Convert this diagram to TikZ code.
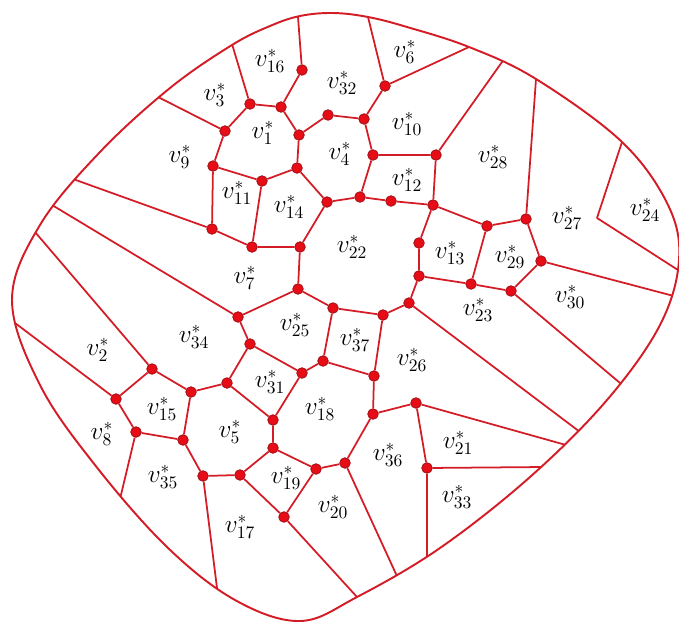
\documentclass[tikz,border=0pt]{standalone}
\usepackage{tikz}
\usetikzlibrary{backgrounds}

\definecolor{edgered}{RGB}{212,28,38}
\definecolor{dotred}{RGB}{232,12,22}
\definecolor{dotrim}{RGB}{165,18,24}

% outer rim of the map
\newcommand{\rimcurve}{plot[smooth cycle, tension=0.6] coordinates {
  (333,13) (368,17) (407,27) (469,47) (536,79) (622,142) (668,205) (679,260)
  (660,325) (607,400) (530,477) (440,548) (357,597) (300,621) (235,600)
  (167,547) (95,465) (40,385) (12,300) (40,225) (100,152) (170,88)
  (232,45) (270,26) (300,16)}}

\begin{document}
\begin{tikzpicture}[
  x=0.02cm, y=-0.02cm,
  font=\fontsize{14.5}{16}\selectfont,
  edge/.style={draw=edgered, line width=1pt, line join=round},
  spoke/.style={edge, shorten >=-10pt},
  rim/.style={draw=edgered, line width=1.1pt},
  dot/.style={circle, fill=dotred, draw=dotrim, line width=0.5pt, minimum size=2.1mm, inner sep=0pt},
  face/.style={inner sep=1pt}
]
\useasboundingbox (0,0) rectangle (679,622);

% Ends of the cut lines on the rim
\coordinate (b1)  at (298,17);
\coordinate (b2)  at (368,17);
\coordinate (b3)  at (469,47);
\coordinate (b4)  at (502,62);
\coordinate (b5)  at (536,79);
\coordinate (b6)  at (622,142);
\coordinate (b7)  at (678,270);
\coordinate (b8)  at (670,295);
\coordinate (b9)  at (620,383);
\coordinate (b10) at (580,432);
\coordinate (b11) at (566,445);
\coordinate (b12) at (544,467);
\coordinate (b13) at (427,555);
\coordinate (b14) at (396,574);
\coordinate (b15) at (357,597);
\coordinate (b16) at (217,588);
\coordinate (b17) at (120,499);
\coordinate (b18) at (15,323);
\coordinate (b19) at (35,232);
\coordinate (b20) at (52,205);
\coordinate (b21) at (73,179);
\coordinate (b22) at (158,97);
\coordinate (b23) at (232,44);
\coordinate (c24) at (597,218);

% Vertices of the dual graph
\node[dot] (d1)  at (225,131) {};
\node[dot] (d2)  at (250,104) {};
\node[dot] (d3)  at (281,107) {};
\node[dot] (d4)  at (302,70)  {};
\node[dot] (d5)  at (299,135) {};
\node[dot] (d6)  at (328,115) {};
\node[dot] (d7)  at (364,119) {};
\node[dot] (d8)  at (385,86)  {};
\node[dot] (d9)  at (373,155) {};
\node[dot] (d10) at (436,155) {};
\node[dot] (d11) at (433,205) {};
\node[dot] (d12) at (391,201) {};
\node[dot] (d13) at (360,197) {};
\node[dot] (d14) at (327,202) {};
\node[dot] (d15) at (297,168) {};
\node[dot] (d16) at (262,181) {};
\node[dot] (d17) at (213,166) {};
\node[dot] (d18) at (212,229) {};
\node[dot] (d19) at (252,247) {};
\node[dot] (d20) at (300,247) {};
\node[dot] (d21) at (298,289) {};
\node[dot] (d22) at (333,308) {};
\node[dot] (d23) at (383,315) {};
\node[dot] (d24) at (409,303) {};
\node[dot] (d25) at (419,276) {};
\node[dot] (d26) at (419,243) {};
\node[dot] (d27) at (487,226) {};
\node[dot] (d28) at (526,219) {};
\node[dot] (d29) at (541,261) {};
\node[dot] (d30) at (511,291) {};
\node[dot] (d31) at (471,284) {};
\node[dot] (d32) at (238,317) {};
\node[dot] (d33) at (250,344) {};
\node[dot] (d34) at (323,361) {};
\node[dot] (d35) at (302,373) {};
\node[dot] (d36) at (374,376) {};
\node[dot] (d37) at (227,383) {};
\node[dot] (d38) at (191,392) {};
\node[dot] (d39) at (152,369) {};
\node[dot] (d40) at (116,399) {};
\node[dot] (d41) at (136,432) {};
\node[dot] (d42) at (183,440) {};
\node[dot] (d43) at (203,476) {};
\node[dot] (d44) at (240,475) {};
\node[dot] (d45) at (273,420) {};
\node[dot] (d46) at (273,448) {};
\node[dot] (d47) at (316,469) {};
\node[dot] (d48) at (345,463) {};
\node[dot] (d49) at (284,517) {};
\node[dot] (d50) at (373,414) {};
\node[dot] (d51) at (416,403) {};
\node[dot] (d52) at (427,468) {};

% Edges, upper part
\draw[edge] (d1) -- (d2) -- (d3) -- (d5) -- (d6) -- (d7) -- (d9) -- (d10) -- (d11);
\draw[edge] (d4) -- (d3);
\draw[edge] (d8) -- (d7);
\draw[edge] (d9) -- (d13) -- (d12) -- (d11);
\draw[edge] (d13) -- (d14) -- (d15) -- (d5);
\draw[edge] (d15) -- (d16) -- (d17) -- (d1);
\draw[edge] (d17) -- (d18) -- (d19) -- (d16);
\draw[edge] (d19) -- (d20) -- (d14);

% Edges, middle ring and right side
\draw[edge] (d20) -- (d21) -- (d22) -- (d23) -- (d24) -- (d25) -- (d26) -- (d11);
\draw[edge] (d11) -- (d27) -- (d28) -- (d29) -- (d30) -- (d31) -- (d27);
\draw[edge] (d25) -- (d31);

% Edges, lower part
\draw[edge] (d32) -- (d21);
\draw[edge] (d32) -- (d33) -- (d35) -- (d34) -- (d22);
\draw[edge] (d34) -- (d36) -- (d23);
\draw[edge] (d36) -- (d50) -- (d51) -- (d52);
\draw[edge] (d50) -- (d48) -- (d47) -- (d46) -- (d45) -- (d35);
\draw[edge] (d45) -- (d37) -- (d33);
\draw[edge] (d37) -- (d38) -- (d39) -- (d40) -- (d41) -- (d42) -- (d38);
\draw[edge] (d42) -- (d43) -- (d44) -- (d46);
\draw[edge] (d44) -- (d49) -- (d47);

% Cut lines running out to the rim
\begin{scope}
\clip \rimcurve;
\draw[spoke] (d1) -- (b22);
\draw[spoke] (d2) -- (b23);
\draw[spoke] (d4) -- (b1);
\draw[spoke] (d8) -- (b2);
\draw[spoke] (d8) -- (b3);
\draw[spoke] (d10) -- (b4);
\draw[spoke] (d28) -- (b5);
\draw[spoke] (d29) -- (b8);
\draw[spoke] (d30) -- (b9);
\draw[spoke] (d24) -- (b10);
\draw[spoke] (d51) -- (b11);
\draw[spoke] (d52) -- (b12);
\draw[spoke] (d52) -- (b13);
\draw[spoke] (d48) -- (b14);
\draw[spoke] (d49) -- (b15);
\draw[spoke] (d43) -- (b16);
\draw[spoke] (d41) -- (b17);
\draw[spoke] (d40) -- (b18);
\draw[spoke] (d39) -- (b19);
\draw[spoke] (d32) -- (b20);
\draw[spoke] (d18) -- (b21);
\draw[spoke, shorten <=-10pt] (b6) -- (c24) -- (b7);
\end{scope}

% Rim
\draw[rim] \rimcurve;

% Face labels
\node[face] (f1)  at (263,133) {$v_{1}^{*}$};
\node[face] (f2)  at (98,350)  {$v_{2}^{*}$};
\node[face] (f3)  at (215,95)  {$v_{3}^{*}$};
\node[face] (f4)  at (340,154) {$v_{4}^{*}$};
\node[face] (f5)  at (230,432) {$v_{5}^{*}$};
\node[face] (f6)  at (405,52)  {$v_{6}^{*}$};
\node[face] (f7)  at (245,278) {$v_{7}^{*}$};
\node[face] (f8)  at (102,434) {$v_{8}^{*}$};
\node[face] (f9)  at (180,157) {$v_{9}^{*}$};
\node[face] (f10) at (407,124) {$v_{10}^{*}$};
\node[face] (f11) at (237,193) {$v_{11}^{*}$};
\node[face] (f12) at (407,180) {$v_{12}^{*}$};
\node[face] (f13) at (450,253) {$v_{13}^{*}$};
\node[face] (f14) at (289,207) {$v_{14}^{*}$};
\node[face] (f15) at (162,409) {$v_{15}^{*}$};
\node[face] (f16) at (270,61)  {$v_{16}^{*}$};
\node[face] (f17) at (240,527) {$v_{17}^{*}$};
\node[face] (f18) at (320,409) {$v_{18}^{*}$};
\node[face] (f19) at (286,478) {$v_{19}^{*}$};
\node[face] (f20) at (333,507) {$v_{20}^{*}$};
\node[face] (f21) at (458,443) {$v_{21}^{*}$};
\node[face] (f22) at (352,247) {$v_{22}^{*}$};
\node[face] (f23) at (478,310) {$v_{23}^{*}$};
\node[face] (f24) at (645,210) {$v_{24}^{*}$};
\node[face] (f25) at (295,325) {$v_{25}^{*}$};
\node[face] (f26) at (412,360) {$v_{26}^{*}$};
\node[face] (f27) at (567,218) {$v_{27}^{*}$};
\node[face] (f28) at (493,157) {$v_{28}^{*}$};
\node[face] (f29) at (510,257) {$v_{29}^{*}$};
\node[face] (f30) at (570,297) {$v_{30}^{*}$};
\node[face] (f31) at (270,382) {$v_{31}^{*}$};
\node[face] (f32) at (342,83)  {$v_{32}^{*}$};
\node[face] (f33) at (457,497) {$v_{33}^{*}$};
\node[face] (f34) at (194,337) {$v_{34}^{*}$};
\node[face] (f35) at (163,477) {$v_{35}^{*}$};
\node[face] (f36) at (388,455) {$v_{36}^{*}$};
\node[face] (f37) at (355,340) {$v_{37}^{*}$};

\end{tikzpicture}
\end{document}
